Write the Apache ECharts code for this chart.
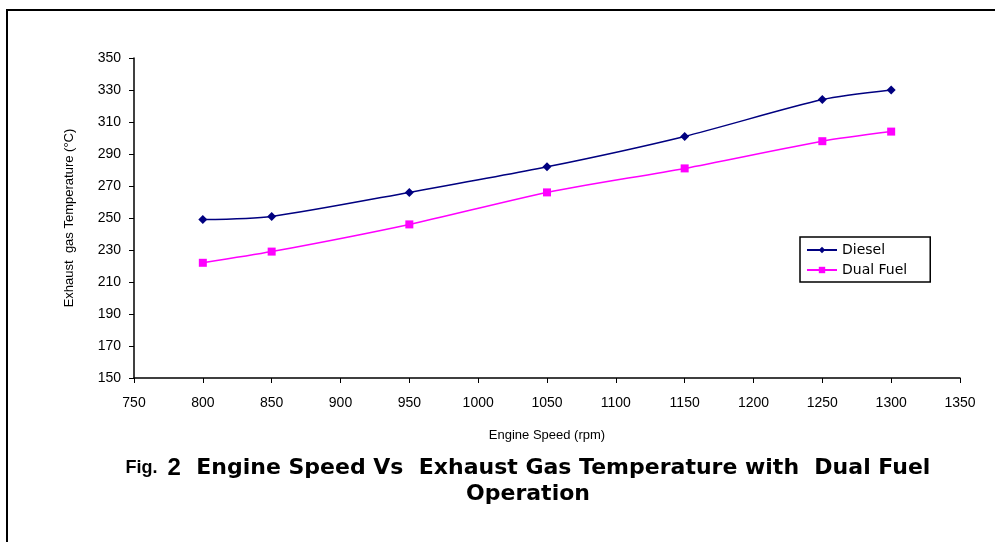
<!DOCTYPE html>
<html><head><meta charset="utf-8">
<script src="https://cdn.jsdelivr.net/npm/echarts@6/dist/echarts.min.js"></script>
<style>html,body{margin:0;padding:0;background:#fff}#c{width:995px;height:542px}</style>
</head><body><div id="c"></div>
<script>
const speeds = [800, 850, 950, 1050, 1150, 1250, 1300];
const diesel = [249, 251, 266, 282, 301, 324, 330];
const dualFuel = [222, 229, 246, 266, 281, 298, 304];
const seriesNames = ['Diesel', 'Dual Fuel'];
const captionText = '{a|Fig.  }{b|2}{c|  Engine Speed Vs  Exhaust Gas Temperature with  Dual Fuel}\n{c|Operation}';

const chart = echarts.init(document.getElementById('c'));
const tickFont = {fontFamily: 'Liberation Sans, Arial, sans-serif', fontSize: 14, color: '#000'};
chart.setOption({
  animation: false,
  backgroundColor: '#fff',
  grid: {left: 134, right: 35, top: 58, bottom: 164},
  xAxis: {
    type: 'value', min: 750, max: 1350, interval: 50,
    name: 'Engine Speed (rpm)', nameLocation: 'middle', nameGap: 51,
    nameTextStyle: {fontFamily: 'Liberation Sans, Arial, sans-serif', fontSize: 13, color: '#000'},
    axisLine: {lineStyle: {color: '#000', width: 1.5}},
    axisTick: {lineStyle: {color: '#000'}, length: 5},
    axisLabel: Object.assign({margin: 18, formatter: v => String(v)}, tickFont),
    splitLine: {show: false}
  },
  yAxis: {
    type: 'value', min: 150, max: 350, interval: 20,
    name: 'Exhaust  gas Temperature (°C)', nameLocation: 'middle', nameGap: 58,
    nameTextStyle: {fontFamily: 'Liberation Sans, Arial, sans-serif', fontSize: 13, color: '#000'},
    axisLine: {show: true, lineStyle: {color: '#000', width: 1.5}},
    axisTick: {show: true, lineStyle: {color: '#000'}, length: 5},
    axisLabel: Object.assign({margin: 13}, tickFont),
    splitLine: {show: false}
  },
  legend: {
    orient: 'vertical', left: 800, top: 237,
    itemWidth: 30, itemHeight: 8, itemGap: 6,
    padding: [6, 23, 5, 6],
    borderColor: '#000', borderWidth: 1.5,
    textStyle: {fontFamily: 'DejaVu Sans, sans-serif', fontSize: 14, color: '#000'},
    data: seriesNames
  },
  graphic: [{
    type: 'polyline', silent: true,
    shape: {points: [[7, 542], [7, 10], [995, 10]]},
    style: {stroke: '#000', lineWidth: 2, fill: null}
  }, {
    type: 'text', silent: true, x: 528, y: 455,
    style: {
      text: captionText, align: 'center', verticalAlign: 'top', lineHeight: 26,
      rich: {
        a: {fontFamily: 'Liberation Sans, Arial', fontWeight: 'bold', fontSize: 18, fill: '#000', lineHeight: 26},
        b: {fontFamily: 'Liberation Sans, Arial', fontWeight: 'bold', fontSize: 24, fill: '#000', lineHeight: 26},
        c: {fontFamily: 'DejaVu Sans, sans-serif', fontWeight: 'bold', fontSize: 22, fill: '#000', lineHeight: 26}
      }
    }
  }],
  series: [
    {
      name: seriesNames[0], type: 'line', smooth: 0.25,
      data: speeds.map((s, i) => [s, diesel[i]]),
      symbol: 'diamond', symbolSize: 9,
      lineStyle: {color: '#000080', width: 1.5},
      itemStyle: {color: '#000080'}
    },
    {
      name: seriesNames[1], type: 'line', smooth: 0.25,
      data: speeds.map((s, i) => [s, dualFuel[i]]),
      symbol: 'rect', symbolSize: 8,
      lineStyle: {color: '#ff00ff', width: 1.5},
      itemStyle: {color: '#ff00ff'}
    }
  ]
});
</script></body></html>
